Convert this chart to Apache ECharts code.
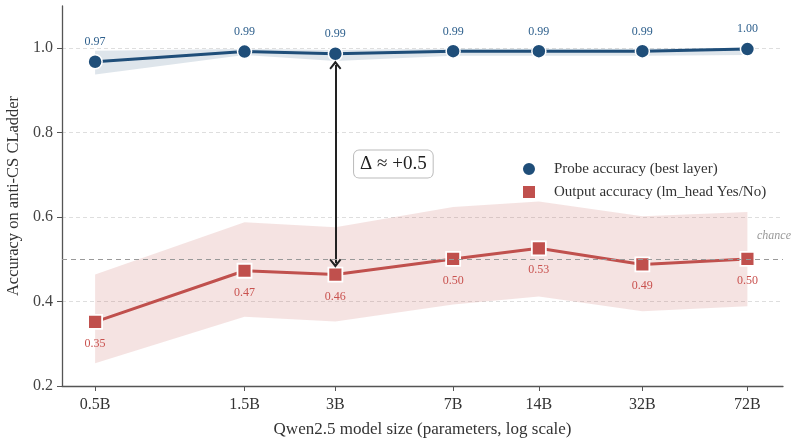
<!DOCTYPE html>
<html>
<head>
	<meta charset="UTF-8">
	<title></title>
	<style>
		html, body { margin: 0; padding: 0; background: #fff; }
		#chart { width: 799px; height: 446px; }
	</style>
	<script src="https://cdn.jsdelivr.net/npm/echarts@6/dist/echarts.min.js"></script>
</head>
<body>
	<div id="chart"></div>
	<script>
		// model sizes in billions (true parameter counts, log axis)
		var sizeLabels = ['0.5B', '1.5B', '3B', '7B', '14B', '32B', '72B'];
		var sizeParams = [0.49, 1.54, 3.09, 7.62, 14.7, 32.5, 72.7];

		var probeAcc = [0.968, 0.992, 0.987, 0.993, 0.993, 0.993, 0.998];
		var probeLo  = [0.938, 0.984, 0.970, 0.982, 0.982, 0.982, 0.984];
		var probeHi  = [0.994, 0.998, 0.996, 0.999, 0.999, 0.999, 1.001];

		var outputAcc = [0.352, 0.473, 0.464, 0.501, 0.526, 0.488, 0.501];
		var outputLo  = [0.254, 0.364, 0.353, 0.393, 0.412, 0.377, 0.389];
		var outputHi  = [0.464, 0.588, 0.576, 0.624, 0.637, 0.602, 0.612];

		var chance = 0.5;
		var yTicks = [0.2, 0.4, 0.6, 0.8, 1.0];

		var blue = '#1f4e79';
		var red = '#c0504d';
		var serif = 'Liberation Serif';

		var xs = sizeParams.map(function (p) { return Math.log10(p); });

		function pts(vals) {
			return vals.map(function (v, i) { return [xs[i], v]; });
		}

		// shaded min/max band drawn as one polygon
		function band(lo, hi, color) {
			return {
				type: 'custom',
				silent: true,
				z: 1,
				data: xs.map(function (x, i) { return [x, lo[i], hi[i]]; }),
				encode: { x: 0, y: [1, 2] },
				renderItem: function (params, api) {
					if (params.dataIndex !== 0) return null;
					var poly = [];
					for (var i = 0; i < xs.length; i++) poly.push(api.coord([xs[i], hi[i]]));
					for (var j = xs.length - 1; j >= 0; j--) poly.push(api.coord([xs[j], lo[j]]));
					return { type: 'polygon', shape: { points: poly }, style: { fill: color } };
				}
			};
		}

		var arrowTop = probeAcc[2] - 0.027;
		var arrowBottom = outputAcc[2] + 0.027;
		var chevron = 'path://M5,0 L10,6 L8.8,7 L5,2.6 L1.2,7 L0,6 Z';

		var myChart = echarts.init(document.getElementById('chart'));

		var option = {
			animation: false,
			textStyle: { fontFamily: serif },
			grid: { left: 62, right: 16, top: 6, bottom: 60, outerBoundsMode: 'none' },
			legend: {
				orient: 'vertical',
				left: 516,
				top: 156,
				itemWidth: 14,
				itemHeight: 14,
				itemGap: 7,
				textStyle: { fontFamily: serif, fontSize: 15, color: '#333', padding: [0, 0, 0, 13] },
				data: [
					{ name: 'Probe accuracy (best layer)', icon: 'circle' },
					{ name: 'Output accuracy (lm_head Yes/No)', icon: 'rect' }
				]
			},
			xAxis: {
				type: 'value',
				min: -0.42,
				max: 1.98,
				name: 'Qwen2.5 model size (parameters, log scale)',
				nameLocation: 'middle',
				nameGap: 35,
				nameTextStyle: { fontFamily: serif, fontSize: 17, color: '#333' },
				axisLine: { onZero: false, lineStyle: { color: '#555', width: 1.3 } },
				axisTick: { customValues: xs, length: 5, lineStyle: { color: '#555' } },
				axisLabel: {
					customValues: xs,
					margin: 11,
					fontFamily: serif,
					fontSize: 16,
					color: '#333',
					formatter: function (v) {
						var best = 0;
						for (var i = 1; i < xs.length; i++) {
							if (Math.abs(xs[i] - v) < Math.abs(xs[best] - v)) best = i;
						}
						return sizeLabels[best];
					}
				},
				splitLine: { show: false }
			},
			yAxis: {
				type: 'value',
				min: 0.2,
				max: 1.1,
				interval: 0.2,
				name: 'Accuracy on anti-CS CLadder',
				nameLocation: 'middle',
				nameGap: 40,
				nameTextStyle: { fontFamily: serif, fontSize: 16.5, color: '#333' },
				axisLine: { show: true, onZero: false, lineStyle: { color: '#555', width: 1.3 } },
				axisTick: { show: true, customValues: yTicks, length: 5, lineStyle: { color: '#555' } },
				axisLabel: {
					customValues: yTicks,
					margin: 9,
					fontFamily: serif,
					fontSize: 16,
					color: '#444',
					formatter: function (v) { return v.toFixed(1); }
				},
				splitLine: { show: true, lineStyle: { color: '#dedede', type: [4, 3], width: 1 } }
			},
			series: [
				band(probeLo, probeHi, 'rgba(31,78,121,0.15)'),
				band(outputLo, outputHi, 'rgba(192,80,77,0.16)'),
				{
					name: 'Probe accuracy (best layer)',
					type: 'line',
					z: 4,
					data: pts(probeAcc),
					symbol: 'circle',
					symbolSize: 14,
					lineStyle: { color: blue, width: 3 },
					itemStyle: { color: blue, borderColor: '#fff', borderWidth: 1.5 },
					label: {
						show: true,
						position: 'top',
						distance: 6,
						fontFamily: serif,
						fontSize: 12,
						color: '#2d5f8c',
						formatter: function (p) { return p.value[1].toFixed(2); }
					},
					markLine: {
						silent: true,
						symbol: [chevron, chevron],
						symbolSize: [12, 9],
						lineStyle: { color: '#222', width: 2, type: 'solid' },
						label: { show: false },
						data: [[
							{ coord: [xs[2], arrowTop] },
							{ coord: [xs[2], arrowBottom] }
						]]
					},
					markPoint: {
						silent: true,
						symbol: 'rect',
						symbolSize: 0,
						label: {
							show: true,
							position: 'inside',
							offset: [58, 0],
							fontFamily: serif,
							fontSize: 19,
							color: '#222',
							backgroundColor: '#fff',
							borderColor: '#bbb',
							borderWidth: 1,
							borderRadius: 5,
							padding: [5, 6, 3, 6],
							formatter: 'Δ ≈ +0.5'
						},
						data: [{ coord: [xs[2], (arrowTop + arrowBottom) / 2] }]
					}
				},
				{
					name: 'Output accuracy (lm_head Yes/No)',
					type: 'line',
					z: 4,
					data: pts(outputAcc),
					symbol: 'rect',
					symbolSize: 14,
					lineStyle: { color: red, width: 3 },
					itemStyle: { color: red, borderColor: '#fff', borderWidth: 1.8 },
					label: {
						show: true,
						position: 'bottom',
						distance: 8,
						fontFamily: serif,
						fontSize: 12,
						color: '#c9524f',
						formatter: function (p) { return p.value[1].toFixed(2); }
					},
					markLine: {
						silent: true,
						symbol: 'none',
						lineStyle: { color: '#999', type: [5, 4], width: 1.2 },
						label: {
							show: true,
							position: 'insideEndTop',
							distance: [-8, 17],
							fontFamily: serif,
							fontStyle: 'italic',
							fontSize: 12,
							color: '#999',
							formatter: 'chance'
						},
						data: [{ yAxis: chance }]
					}
				}
			]
		};

		myChart.setOption(option);
	</script>
</body>
</html>
